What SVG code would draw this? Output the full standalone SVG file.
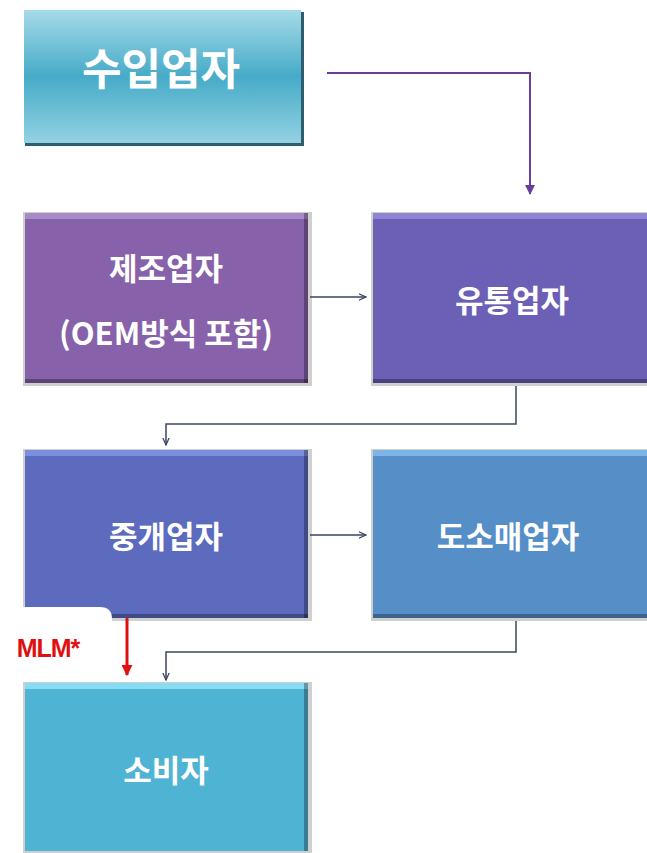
<svg xmlns="http://www.w3.org/2000/svg" width="647" height="853" viewBox="0 0 647 853">
<defs>
<linearGradient id="gImp" x1="0" y1="0" x2="0" y2="1">
<stop offset="0" stop-color="#a6dbe8"/><stop offset="0.5" stop-color="#46abc8"/><stop offset="1" stop-color="#93d2e2"/>
</linearGradient>
<marker id="ap" viewBox="0 0 10 10" refX="9" refY="5" markerWidth="10" markerHeight="10" markerUnits="userSpaceOnUse" orient="auto"><path d="M0,0 L10,5 L0,10 Z" fill="#6a3d9a"/></marker>
<marker id="ag" viewBox="0 0 10 10" refX="9" refY="5" markerWidth="8" markerHeight="8" markerUnits="userSpaceOnUse" orient="auto"><path d="M0,1 L9,5 L0,9" fill="none" stroke="#3b4560" stroke-width="1.6"/></marker>
<marker id="ar" viewBox="0 0 10 10" refX="9" refY="5" markerWidth="11" markerHeight="11" markerUnits="userSpaceOnUse" orient="auto"><path d="M0,0 L10,5 L0,10 Z" fill="#e01010"/></marker>
</defs>
<style>
.lbl{font-family:"Noto Sans CJK KR","Noto Sans",sans-serif;font-weight:bold;fill:#ffffff;text-anchor:middle}
.shadow{fill:#a0a0a0;opacity:0.5}
.edgeR{fill:#000000;opacity:0.3}
.cg{fill:none;stroke:#3b4560;stroke-width:1.5}
</style>
<rect width="647" height="853" fill="#ffffff"/>

<g id="importer">
<rect x="25" y="12" width="279" height="134" fill="#2f5d6e"/>
<rect x="24" y="10" width="277" height="133" fill="url(#gImp)"/>
<text class="lbl" x="161" y="85" font-size="43">수입업자</text>
</g>

<g id="manufacturer">
<rect x="23" y="212" width="289" height="174" class="shadow"/>
<rect x="25" y="213" width="283" height="170" fill="#8762aa"/>
<rect x="25" y="213" width="283" height="6" fill="#a98ac8"/>
<rect x="304" y="213" width="4" height="170" class="edgeR"/>
<rect x="25" y="379" width="283" height="4" class="edgeR"/>
<text class="lbl" x="166" y="280" font-size="31">제조업자</text>
<text class="lbl" x="166" y="345" font-size="31">(OEM방식 포함)</text>
</g>

<g id="distributor">
<rect x="371" y="212" width="276" height="174" class="shadow"/>
<rect x="373" y="213" width="274" height="170" fill="#6b5fb6"/>
<rect x="373" y="213" width="274" height="6" fill="#8f83d4"/>
<rect x="373" y="379" width="274" height="4" class="edgeR"/>
<text class="lbl" x="512" y="312" font-size="31">유통업자</text>
</g>

<g id="broker">
<rect x="23" y="449" width="289" height="172" class="shadow"/>
<rect x="25" y="450" width="283" height="168" fill="#5c6bbd"/>
<rect x="25" y="450" width="283" height="6" fill="#7d8fdc"/>
<rect x="304" y="450" width="4" height="168" class="edgeR"/>
<rect x="25" y="614" width="283" height="4" class="edgeR"/>
<text class="lbl" x="166" y="548" font-size="31">중개업자</text>
</g>

<g id="wholesaler">
<rect x="371" y="449" width="276" height="172" class="shadow"/>
<rect x="373" y="450" width="274" height="168" fill="#568ec8"/>
<rect x="373" y="450" width="274" height="6" fill="#7cb4e8"/>
<rect x="373" y="614" width="274" height="4" class="edgeR"/>
<text class="lbl" x="508" y="548" font-size="31">도소매업자</text>
</g>

<g id="mlmtab">
<path d="M-5,607 H100 Q112,607 112,619 V682 H-5 Z" fill="#ffffff"/>
<text x="48" y="657" font-family="Liberation Sans, Arial, sans-serif" font-weight="bold" font-size="25" fill="#e01010" text-anchor="middle" letter-spacing="-1">MLM*</text>
</g>

<g id="consumer">
<rect x="23" y="682" width="289" height="171" class="shadow"/>
<rect x="25" y="683" width="283" height="168" fill="#4fb3d3"/>
<rect x="25" y="683" width="283" height="6" fill="#86dcf2"/>
<rect x="304" y="683" width="4" height="168" class="edgeR"/>
<text class="lbl" x="166" y="782" font-size="31">소비자</text>
</g>

<g id="connectors">
<path d="M327,73 H530 V194" fill="none" stroke="#6a3d9a" stroke-width="2" marker-end="url(#ap)"/>
<path d="M310,297 H366" class="cg" marker-end="url(#ag)"/>
<path d="M516,386 V424 H166 V445" class="cg" marker-end="url(#ag)"/>
<path d="M310,535 H366" class="cg" marker-end="url(#ag)"/>
<path d="M516,621 V652 H166 V680" class="cg" marker-end="url(#ag)"/>
<path d="M127,618 V675" fill="none" stroke="#e01010" stroke-width="3" marker-end="url(#ar)"/>
</g>
</svg>
